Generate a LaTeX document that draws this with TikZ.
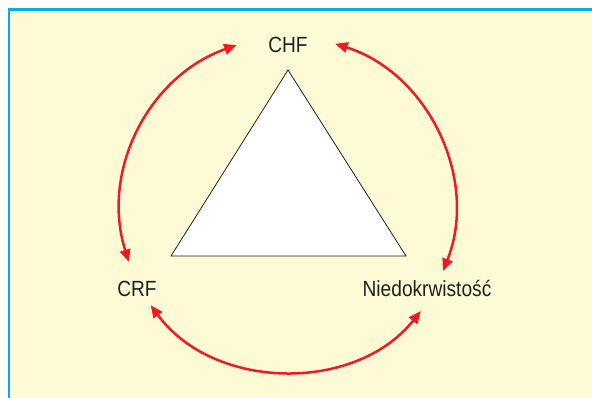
\documentclass[tikz,border=0pt]{standalone}
\usepackage{fontspec}
\setmainfont{Liberation Sans}[FakeStretch=0.87]
\usetikzlibrary{arrows.meta,calc}
\definecolor{cream}{RGB}{255,250,214}
\definecolor{framecyan}{RGB}{0,174,239}
\definecolor{arrred}{RGB}{237,28,36}
\definecolor{ink}{RGB}{35,31,32}

\begin{document}
\begin{tikzpicture}[
  x=1pt, y=1pt,
  font=\fontsize{22}{25}\selectfont,
  line join=miter,
  cycarr/.style={{Triangle[length=12.5pt, width=10.5pt]}-{Triangle[length=12.5pt, width=10.5pt]},
    line width=2.5pt, draw=arrred},
  lbl/.style={anchor=base, inner sep=0pt, text=ink},
]
  \useasboundingbox (0,0) rectangle (592,-398);
  % Panel background and frame (top and left edges only)
  \fill[cream] (9,-9.7) rectangle (600,-410);
  \draw[framecyan, line width=2.6pt] (9,-410) -- (9,-9.7) -- (600,-9.7);
  % Triangle
  \coordinate (top) at (288,-70);
  \coordinate (bl) at (171,-256);
  \coordinate (br) at (406,-256);
  \draw[ink, line width=0.8pt, fill=white] (top) -- (bl) -- (br) -- cycle;
  % Labels
  \node[lbl] (chf) at (288,-53) {CHF};
  \node[lbl] (crf) at (137,-297) {CRF};
  \node[lbl] (anemia) at (427,-297) {Niedokrwistość};
  % Arrow ends on a circle round the triangle
  \coordinate (c) at (288,-205);
  \coordinate (chfL) at ($(c)+(107.8:168)$);
  \coordinate (chfR) at ($(c)+(73.7:168)$);
  \coordinate (crfT) at ($(c)+(199.7:169)$);
  \coordinate (crfB) at ($(c)+(216.1:170)$);
  \coordinate (aneT) at ($(c)+(-23.1:168.5)$);
  \coordinate (aneB) at ($(c)+(-38.6:170)$);
  % Arrows
  \draw[cycarr] (chfL) to[bend right=44] (crfT);
  \draw[cycarr] (crfB) to[bend right=52.6] (aneB);
  \draw[cycarr] (aneT) to[bend right=47] (chfR);
\end{tikzpicture}
\end{document}
